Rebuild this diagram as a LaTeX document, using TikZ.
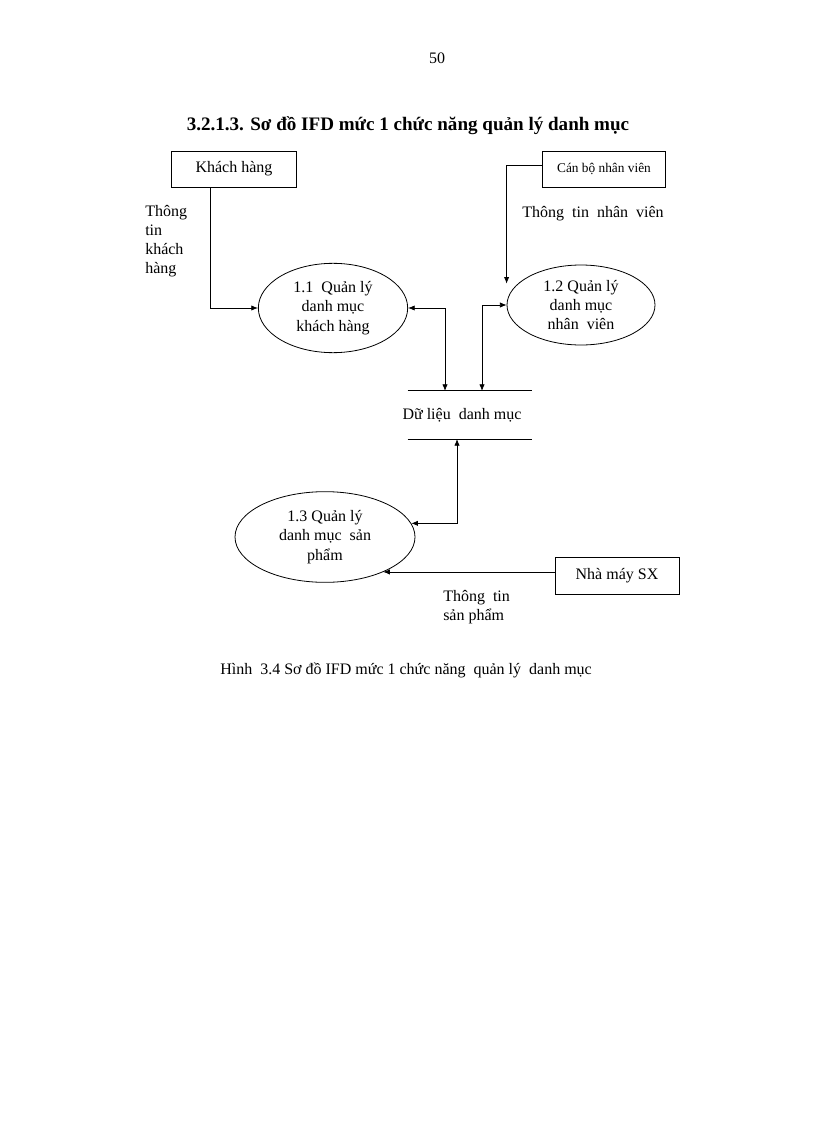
\documentclass[tikz,border=0pt]{standalone}
\usepackage{fontspec}
\setmainfont{Liberation Serif}
\usetikzlibrary{shapes,arrows.meta}

\begin{document}
\begin{tikzpicture}[x=0.75pt,y=-0.75pt]
    \tikzstyle{every node}=[font=\fontsize{12}{14.4}\selectfont]
    \tikzstyle{entity}=[rectangle,draw,line width=0.6pt,minimum width=94pt,minimum height=27pt,inner sep=1pt]
    \tikzstyle{process}=[ellipse,draw,line width=0.6pt,align=center,inner sep=0pt]
    \tikzstyle{flow}=[line width=0.6pt,-{Latex[length=5pt,width=4pt]}]
    \tikzstyle{both}=[line width=0.6pt,{Latex[length=5pt,width=4pt]}-{Latex[length=5pt,width=4pt]}]
    \useasboundingbox[fill=white] (0,0) rectangle (816,1123);

    \node (page) at (437,58) {50};
    \node (title) at (408,126) {\fontsize{14.3}{16}\selectfont\bfseries 3.2.1.3. Sơ đồ IFD mức 1 chức năng quản lý danh mục};

    % external entities
    \node[entity] (kh) at (234,169) {Khách hàng};
    \node[entity,minimum width=92pt,font=\fontsize{10}{12}\selectfont] (cb) at (604,169) {Cán bộ nhân viên};
    \node[entity,minimum width=93pt,minimum height=28pt] (nm) at (617,576) {Nhà máy SX};

    % processes
    \node[process,minimum width=112pt,minimum height=67pt] (p11) at (333,308) {1.1~ Quản lý\\danh mục\\khách hàng};
    \node[process,minimum width=111pt,minimum height=60pt] (p12) at (581,305) {1.2 Quản lý\\danh mục\\nhân~ viên};
    \node[process,minimum width=135pt,minimum height=68pt] (p13) at (325,537) {1.3 Quản lý\\danh mục~ sản\\phẩm};

    % data store
    \node[minimum width=93pt,minimum height=36pt] (store) at (470,415) {\hspace*{-12pt}Dữ liệu~ danh mục};
    \draw[line width=0.6pt] (store.north west) -- (store.north east);
    \draw[line width=0.6pt] (store.south west) -- (store.south east);
    \coordinate (s1) at (445,391);
    \coordinate (s2) at (482,391);
    \coordinate (s3) at (457,439);

    % flows
    \draw[flow] ([xshift=-18pt]kh.south) |- (p11.west);
    \draw[flow] ([yshift=3pt]cb.west) -| ([yshift=16pt]p12.west);
    \draw[flow] (nm.west |- p13.-31) -- (p13.-31);
    \draw[both] (p11.east) -| (s1);
    \draw[both] (p12.west) -| (s2);
    \draw[both] (p13.9) -| (s3);

    % flow labels
    \node[align=left,anchor=west,inner sep=0pt] (lkh) at (145,241) {Thông\\tin\\khách\\hàng};
    \node (lcb) at (593,214) {Thông~ tin~ nhân~ viên};
    \node[align=left,anchor=west,inner sep=0pt] (lnm) at (443,607) {Thông~ tin\\sản phẩm};

    \node[anchor=west,inner sep=0pt] (caption) at (220,670) {Hình~ 3.4 Sơ đồ IFD mức 1 chức năng~ quản lý~ danh mục};
\end{tikzpicture}
\end{document}
